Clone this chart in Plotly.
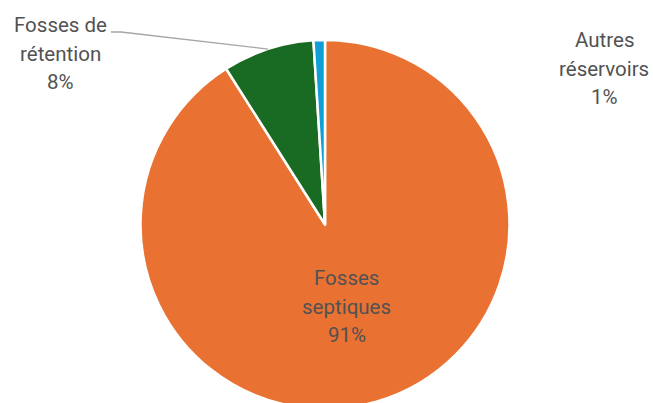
import math
import plotly.graph_objects as go

# Répartition des réservoirs
categories = ["Fosses septiques", "Fosses de rétention", "Autres réservoirs"]
label_lines = [["Fosses", "septiques"], ["Fosses de", "rétention"], ["Autres", "réservoirs"]]
values = [91, 8, 1]
colors = ["#E97132", "#196B24", "#0F9ED5"]

# Canvas geometry (pixels)
W, H = 653, 409
TOP = 40
CX = 325
R = (H - TOP) / 2
CY = TOP + R

# Label anchors (pixel centre of the first line) and line pitch
label_pos = [(346.5, 278), (60, 25), (604, 40)]
LINE_H = 28.5
TEXT_COLOR = "#525252"
FONT = "Roboto, Arial, sans-serif"
FONT_SIZE = 20.5

total = sum(values)
pcts = [round(v / total * 100) for v in values]

fig = go.Figure(
    go.Pie(
        labels=categories,
        values=values,
        sort=False,
        direction="clockwise",
        rotation=0,
        marker=dict(colors=colors, line=dict(color="white", width=2.5)),
        textinfo="none",
        hoverinfo="label+percent",
        domain=dict(x=[(CX - R) / W, (CX + R) / W], y=[0, (H - TOP) / H]),
        showlegend=False,
    )
)


def px_to_paper(x, y):
    return x / W, 1 - y / H


annotations = []
for lines, pct, (lx, ly) in zip(label_lines, pcts, label_pos):
    for i, txt in enumerate(lines + [f"{pct}%"]):
        px, py = px_to_paper(lx, ly + i * LINE_H)
        annotations.append(
            dict(
                x=px, y=py, xref="paper", yref="paper",
                text=txt, showarrow=False,
                xanchor="center", yanchor="middle",
                font=dict(family=FONT, size=FONT_SIZE, color=TEXT_COLOR),
            )
        )

# Leader line from the "Fosses de rétention" label to the middle of its slice
start = sum(values[:1]) / total
mid_frac = start + values[1] / total / 2
ang = 2 * math.pi * mid_frac
ex = CX + R * math.sin(ang)
ey = CY - R * math.cos(ang)
x0, y0 = px_to_paper(111, 32)
x1, y1 = px_to_paper(121, 32)
x2, y2 = px_to_paper(ex, ey)
shapes = [
    dict(
        type="path", xref="paper", yref="paper",
        path=f"M {x0} {y0} L {x1} {y1} L {x2} {y2}",
        line=dict(color="#A6A6A6", width=1.3),
    )
]

fig.update_layout(
    width=W, height=H,
    margin=dict(l=0, r=0, t=0, b=0),
    paper_bgcolor="white", plot_bgcolor="white",
    annotations=annotations,
    shapes=shapes,
)

fig.write_html(
    "out.html",
    post_script="document.body.style.margin='0';document.body.style.overflow='hidden';",
)
